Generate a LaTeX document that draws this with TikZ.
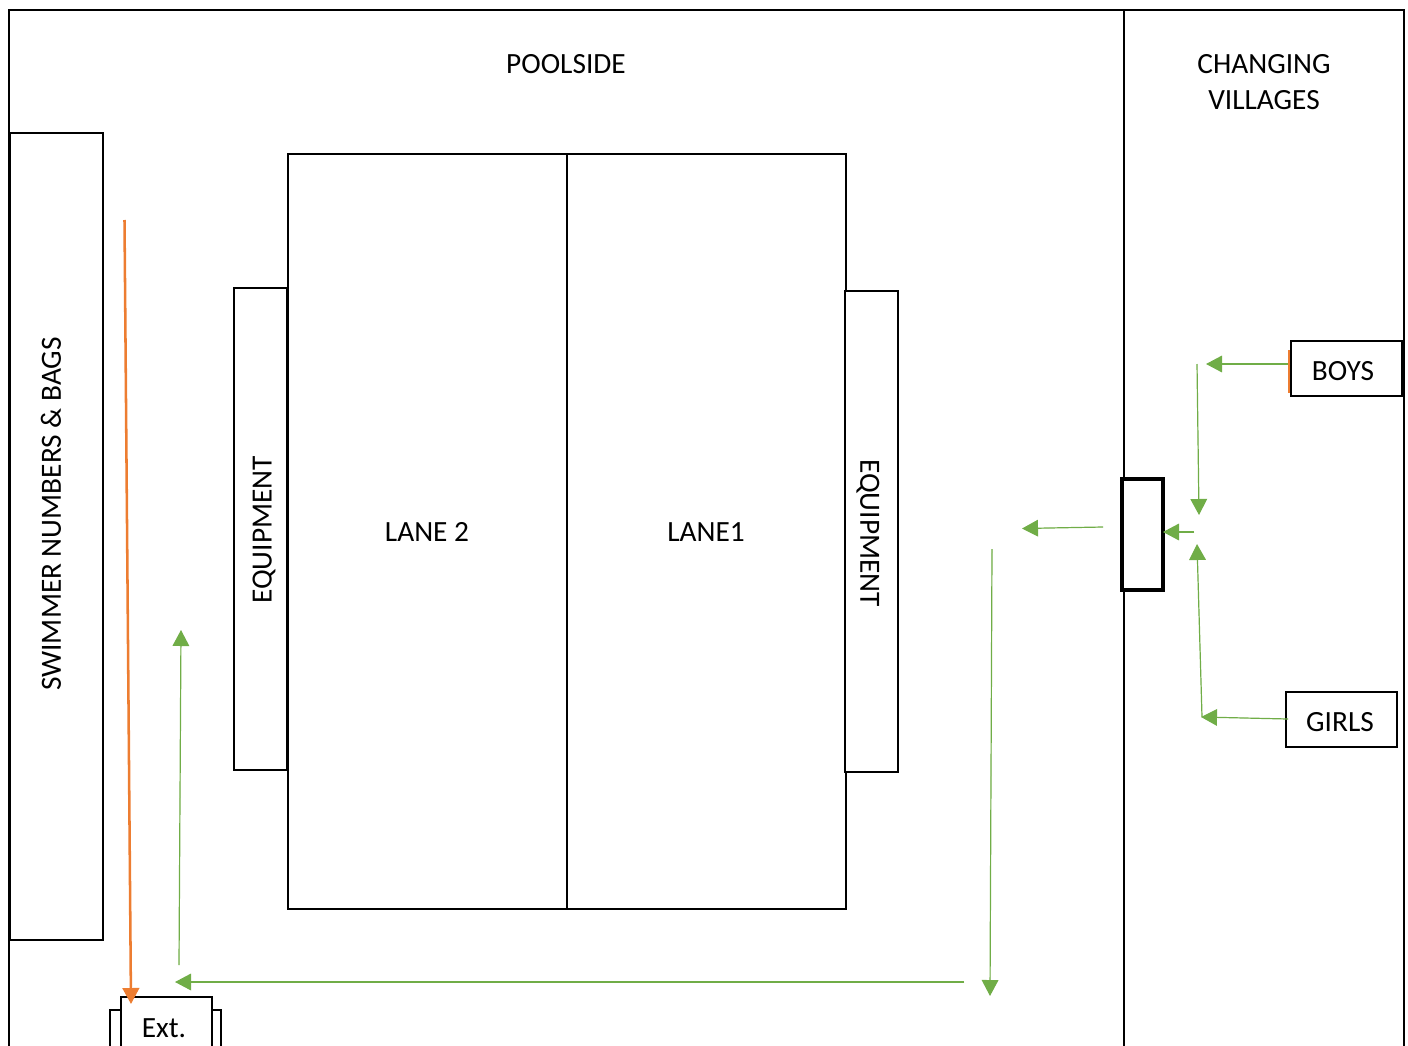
\documentclass[tikz,border=0pt]{standalone}
\usepackage{fontspec}
\setmainfont{Carlito}
\usetikzlibrary{arrows.meta}
\newcommand{\px}{.75pt}
\tikzset{
  box/.style={draw, line width=1.6pt, fill=white, inner sep=0pt},
  txt/.style={inner sep=0pt, align=center},
  flow/.style={draw=flowgreen, line width=.9pt},
  kitflow/.style={draw=kitorange, line width=1.9pt},
}
\definecolor{flowgreen}{HTML}{70AD47}
\definecolor{kitorange}{HTML}{ED7D31}
\begin{document}
\begin{tikzpicture}
[x=.75pt, y=-.75pt, font=\fontsize{22}{27}\selectfont, line join=miter,
 >={Triangle[length=12pt,width=12.5pt]}]
\useasboundingbox (0,0) rectangle (1408,1045);
\clip (0,0) rectangle (1408,1045);
% outer walls
\coordinate (sw) at (9,1060);
\coordinate (nw) at (9,10);
\coordinate (ne) at (1404,10);
\coordinate (se) at (1404,1060);
\coordinate (wallt) at (1124,10);
\coordinate (wallb) at (1124,1060);
\draw[line width=1.6pt] (sw)--(nw)--(ne)--(se);
\draw[line width=1.6pt] (wallt)--(wallb);
% boxes
\node[box, line width=1.9pt, minimum width=93*\px, minimum height=807*\px] (numbers) at (56.5,536.5) {};
\node[box, minimum width=279*\px, minimum height=755*\px] (lanetwo) at (427.5,531.5) {};
\node[box, minimum width=279*\px, minimum height=755*\px] (laneone) at (706.5,531.5) {};
\node[box, minimum width=53*\px, minimum height=482*\px] (equipl) at (260.5,529) {};
\node[box, minimum width=53*\px, minimum height=481*\px] (equipr) at (871.5,531.5) {};
\node[box, line width=2.6pt, minimum width=41*\px, minimum height=111*\px] (door) at (1142.5,534.5) {};
\node[box, minimum width=111*\px, minimum height=55*\px] (boys) at (1346.5,368.5) {};
\node[box, minimum width=111*\px, minimum height=55*\px] (girls) at (1341.5,719.5) {};
\node[box, minimum width=111*\px, minimum height=100*\px] (extback) at (165.5,1060) {};
\node[box, line width=1.9pt, minimum width=91*\px, minimum height=100*\px] (ext) at (166.5,1047) {};
% labels
\node[txt] (poolside) at (566,64) {POOLSIDE};
\node[txt] (changing) at (1264,82) {CHANGING\\VILLAGES};
\node[txt, rotate=90] (numberstxt) at (51,514) {SWIMMER NUMBERS \& BAGS};
\node[txt, rotate=90] (equipltxt) at (264,530) {EQUIPMENT};
\node[txt, rotate=-90] (equiprtxt) at (868,533) {EQUIPMENT};
\node[txt] (lanetwotxt) at (427,532) {LANE 2};
\node[txt] (laneonetxt) at (706,532.5) {LANE1};
\node[txt] (boystxt) at (1343,371) {BOYS};
\node[txt] (girlstxt) at (1340,722) {GIRLS};
\node[txt] (exttxt) at (164,1028) {Ext.};
% routes
\coordinate (k1) at (124.5,220);
\coordinate (k2) at (131,1004);
\coordinate (a1) at (179,965);
\coordinate (a2) at (181,630);
\coordinate (b1) at (964,982);
\coordinate (b2) at (175,982);
\coordinate (c1) at (992,549);
\coordinate (c2) at (990,996);
\coordinate (d1) at (1103,527);
\coordinate (d2) at (1022,528.5);
\coordinate (e1) at (1194,532);
\coordinate (e2) at (1163,532);
\coordinate (f1) at (1290,364);
\coordinate (f2) at (1206,364);
\coordinate (g1) at (1197,364);
\coordinate (g2) at (1199,515);
\coordinate (h1) at (1288,719);
\coordinate (h2) at (1201,717);
\coordinate (i1) at (1202,717);
\coordinate (i2) at (1197,544);
\coordinate (o1) at (1289,350);
\coordinate (o2) at (1289,393);
\foreach \s/\t in {a1/a2,b1/b2,c1/c2,d1/d2,e1/e2,f1/f2,g1/g2,h1/h2,i1/i2}
\draw[flow,-{>},fill=flowgreen] (\s)--(\t);
\draw[kitflow,-{>},fill=kitorange] (k1)--(k2);
\draw[kitflow,line width=1.5pt] (o1)--(o2);
\end{tikzpicture}
\end{document}
